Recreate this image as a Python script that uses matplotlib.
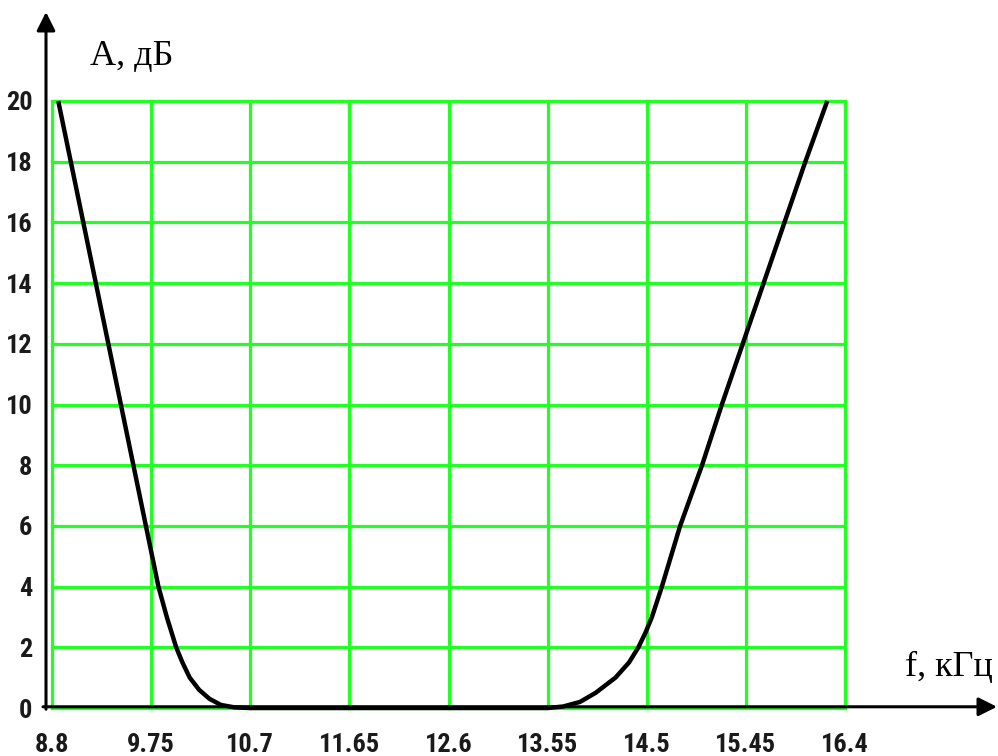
import matplotlib
matplotlib.use('Agg')
import matplotlib.pyplot as plt
from matplotlib import font_manager

# attenuation curve
f_left = [8.86, 8.98, 9.10, 9.22, 9.34, 9.46, 9.58, 9.70, 9.82, 9.90, 9.99, 10.05, 10.12, 10.21, 10.31, 10.42, 10.55, 10.70]
a_left = [20, 18, 16, 14, 12, 10, 8, 6, 4, 3, 2, 1.5, 1, 0.6, 0.3, 0.1, 0.02, 0]
f_right = [13.55, 13.70, 13.86, 14.01, 14.20, 14.33, 14.42, 14.49, 14.55, 14.645, 14.82, 15.03, 15.22, 15.42, 15.62, 15.82, 16.02, 16.23]
a_right = [0, 0.05, 0.2, 0.5, 1, 1.5, 2, 2.5, 3, 4, 6, 8, 10, 12, 14, 16, 18, 20]

x_ticks = [8.8, 9.75, 10.7, 11.65, 12.6, 13.55, 14.5, 15.45, 16.4]
x_labels = ['8.8', '9.75', '10.7', '11.65', '12.6', '13.55', '14.5', '15.45', '16.4']
y_ticks = [0, 2, 4, 6, 8, 10, 12, 14, 16, 18, 20]

W, H = 998, 756
fig = plt.figure(figsize=(W / 100, H / 100), dpi=100)

# axes box in pixels
left, right, top, bottom = 52, 845, 101, 708
ax = fig.add_axes([left / W, (H - bottom) / H, (right - left) / W, (bottom - top) / H])

# narrow font for the tick labels if there is one
installed = {f.name for f in font_manager.fontManager.ttflist}
condensed = [f.name for f in font_manager.fontManager.ttflist if f.stretch in ('condensed', 'semi-condensed')]
tick_font = dict(color='#1a1a1a')
if 'Liberation Sans Narrow' in installed:
    tick_font.update(family='Liberation Sans Narrow', size=19, weight='bold')
elif 'Roboto Condensed' in installed:
    tick_font.update(family='Roboto Condensed', size=19, weight='bold')
elif 'DejaVu Sans' in condensed:
    tick_font.update(family='DejaVu Sans', size=17, weight='bold', stretch='condensed')
else:
    tick_font.update(family='DejaVu Sans', size=14, weight='bold')

ax.set_xlim(8.8, 16.4)
ax.set_ylim(0, 20)
ax.set_xticks(x_ticks)
ax.set_xticklabels(x_labels, fontdict=tick_font)
ax.set_yticks(y_ticks)
ax.set_yticklabels([str(v) for v in y_ticks], fontdict=tick_font)
ax.tick_params(axis='x', length=0, pad=18)
ax.tick_params(axis='y', length=0, pad=14)

for s in ax.spines.values():
    s.set_visible(False)

ax.grid(True, color='#22ff22', lw=2.3)
for ln in ax.get_xgridlines() + ax.get_ygridlines():
    ln.set_clip_on(False)
ax.set_axisbelow(True)

# curve
f_vals = f_left + f_right
a_vals = a_left + a_right
ax.plot(f_vals, a_vals, color='black', lw=3.2, clip_on=False, zorder=5,
        solid_joinstyle='round', solid_capstyle='butt')

# black axes with arrows
ax.annotate('', xy=(-6 / (right - left), (bottom - 12) / (bottom - top)),
            xytext=(-6 / (right - left), -0.002), xycoords='axes fraction',
            arrowprops=dict(arrowstyle='-|>', lw=2.2, color='black', mutation_scale=28,
                            shrinkA=0, shrinkB=0))
ax.annotate('', xy=((W - 1 - left) / (right - left), 0.002),
            xytext=(-9 / (right - left), 0.002), xycoords='axes fraction',
            arrowprops=dict(arrowstyle='-|>', lw=2.2, color='black', mutation_scale=28,
                            shrinkA=0, shrinkB=0))

label_font = dict(family=['Liberation Serif', 'DejaVu Serif'], size=26)
fig.text(90 / W, 1 - 65 / H, 'A, дБ', va='baseline', ha='left', **label_font)
fig.text(905 / W, 1 - 676 / H, 'f, кГц', va='baseline', ha='left', **label_font)

fig.savefig('out.png', dpi=100)
